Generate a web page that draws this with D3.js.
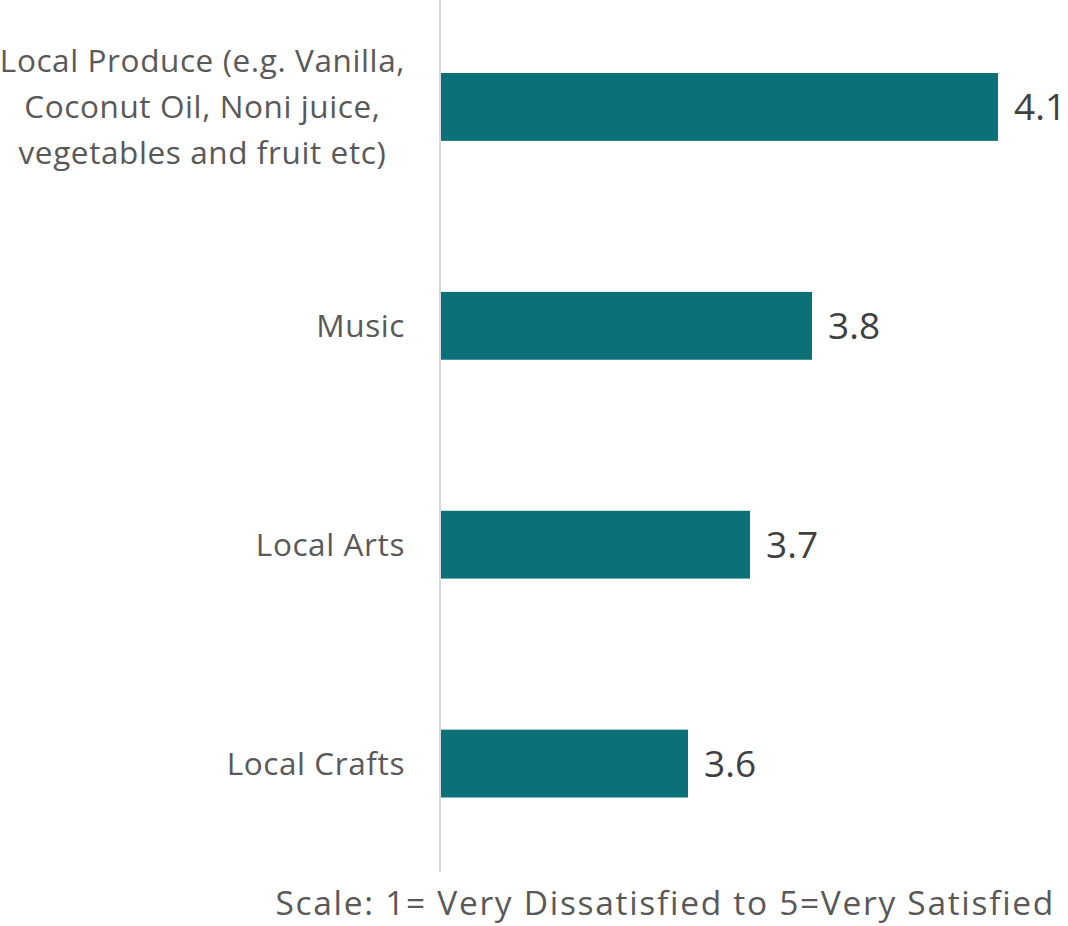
<!DOCTYPE html>
<html>
<head>
<meta charset="utf-8">
<script src="https://cdn.jsdelivr.net/npm/d3@7"></script>
<style>
  html, body { margin: 0; padding: 0; background: #fff; }
  svg { display: block; }
  text { font-family: "Open Sans", "Noto Sans", sans-serif; }
</style>
</head>
<body>
<svg id="chart" width="1068" height="926"></svg>
<script>
// Satisfaction scores, top to bottom
const categories = [
  ["Local Produce (e.g. Vanilla,", "Coconut Oil, Noni juice,", "vegetables and fruit etc)"],
  ["Music"],
  ["Local Arts"],
  ["Local Crafts"]
];
const scores = [4.1, 3.8, 3.7, 3.6];
const caption = "Scale: 1= Very Dissatisfied to 5=Very Satisfied";

const svg = d3.select("#chart");

const axisX = 440;
const x = d3.scaleLinear().domain([3.2, 4.2]).range([axisX, 1060]);
const y = d3.scaleBand()
  .domain(d3.range(categories.length))
  .range([-2.5, 873])
  .paddingInner(0.69)
  .paddingOuter(0.345);

// bars
svg.append("g").selectAll("rect")
  .data(scores)
  .join("rect")
  .attr("x", x(3.2) + 1)
  .attr("y", (d, i) => y(i))
  .attr("width", d => x(d) - x(3.2) - 1)
  .attr("height", y.bandwidth())
  .attr("fill", "#0c7078");

// vertical category axis line
svg.append("line")
  .attr("x1", axisX).attr("x2", axisX)
  .attr("y1", 0).attr("y2", 872)
  .attr("stroke", "#d9d9d9").attr("stroke-width", 2);

// value labels
svg.append("g").selectAll("text")
  .data(scores)
  .join("text")
  .attr("x", d => x(d) + 16)
  .attr("y", (d, i) => y(i) + y.bandwidth() / 2)
  .attr("dy", "0.36em")
  .attr("font-size", 37)
  .attr("fill", "#404040")
  .text(d => d.toFixed(1));

// category labels: lines centred with each other, block right-aligned to the axis gap
const labelRight = 405, lineH = 46;
categories.forEach((lines, i) => {
  const cy = y(i) + y.bandwidth() / 2;
  const t = svg.append("text")
    .attr("font-size", 31.5)
    .attr("letter-spacing", 0.6)
    .attr("fill", "#595959")
    .attr("text-anchor", "middle");
  lines.forEach((ln, k) => {
    t.append("tspan")
      .attr("x", 0)
      .attr("y", cy + (k - (lines.length - 1) / 2) * lineH)
      .attr("dy", "0.36em")
      .text(ln);
  });
  const b = t.node().getBBox();
  t.attr("transform", `translate(${labelRight - (b.x + b.width)},0)`);
});

// scale note
svg.append("text")
  .attr("x", 1055)
  .attr("y", 915)
  .attr("text-anchor", "end")
  .attr("font-size", 33.5)
  .attr("letter-spacing", 1.7)
  .attr("fill", "#595959")
  .text(caption);
</script>
</body>
</html>
